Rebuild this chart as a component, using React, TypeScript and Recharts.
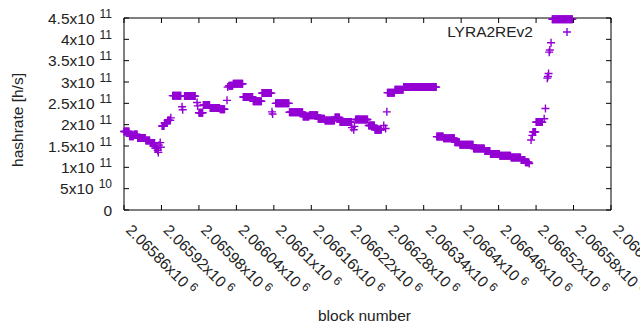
import { ScatterChart, Scatter, XAxis, YAxis, ReferenceArea, Legend } from "recharts";

// Runs of consecutive blocks sharing one hashrate estimate (units of 1e11 h/s),
// read off the plot. A run with start === end is a single block.
const runStart = [
  2065860, 2065869, 2065876, 2065882, 2065895, 2065902, 2065910, 2065914, 2065915, 2065916,
  2065918, 2065919, 2065921, 2065925, 2065930, 2065935, 2065938, 2065953, 2065954, 2065957,
  2065977, 2065978, 2065980, 2065987, 2065998, 2066014, 2066025, 2066026, 2066028, 2066035,
  2066051, 2066067, 2066081, 2066097, 2066098, 2066103, 2066125, 2066147, 2066157, 2066171,
  2066182, 2066198, 2066206, 2066225, 2066228, 2066229, 2066231, 2066252, 2066262, 2066276,
  2066279, 2066281, 2066282, 2066294, 2066308, 2066361, 2066372, 2066390, 2066398, 2066420,
  2066438, 2066447, 2066462, 2066480, 2066496, 2066503, 2066509, 2066512, 2066514, 2066515,
  2066520, 2066533, 2066535, 2066538, 2066539, 2066540, 2066541, 2066542, 2066544, 2066546,
];
const runEnd = [
  2065868, 2065875, 2065881, 2065894, 2065901, 2065909, 2065913, 2065914, 2065915, 2065916,
  2065918, 2065919, 2065924, 2065929, 2065934, 2065935, 2065951, 2065953, 2065954, 2065974,
  2065977, 2065978, 2065986, 2065997, 2066013, 2066021, 2066025, 2066026, 2066034, 2066050,
  2066066, 2066080, 2066096, 2066097, 2066098, 2066124, 2066146, 2066156, 2066170, 2066181,
  2066197, 2066205, 2066224, 2066225, 2066228, 2066229, 2066250, 2066261, 2066272, 2066276,
  2066279, 2066281, 2066293, 2066307, 2066360, 2066371, 2066389, 2066397, 2066419, 2066437,
  2066446, 2066461, 2066479, 2066495, 2066502, 2066508, 2066509, 2066512, 2066514, 2066519,
  2066530, 2066533, 2066535, 2066538, 2066539, 2066540, 2066541, 2066542, 2066544, 2066578,
];
const hashrateE11 = [
  1.84, 1.73, 1.77, 1.69, 1.63, 1.57, 1.45, 1.4, 1.35, 1.52,
  1.58, 1.47, 1.97, 2.04, 2.1, 2.16, 2.68, 2.42, 2.35, 2.67,
  2.52, 2.44, 2.28, 2.46, 2.39, 2.36, 2.57, 2.88, 2.91, 2.96,
  2.65, 2.55, 2.74, 2.3, 2.25, 2.5, 2.29, 2.19, 2.22, 2.14,
  2.1, 2.17, 2.06, 1.93, 1.88, 1.96, 2.12, 1.98, 1.88, 1.98,
  1.91, 2.3, 2.75, 2.82, 2.88, 1.72, 1.68, 1.59, 1.53, 1.44,
  1.38, 1.31, 1.27, 1.23, 1.17, 1.12, 1.09, 1.64, 1.75, 1.83,
  2.06, 2.14, 2.38, 3.09, 3.13, 3.2, 3.7, 3.75, 3.92, 4.47,
];

const xTicks = [
  2065860, 2065920, 2065980, 2066040, 2066100, 2066160, 2066220, 2066280, 2066340, 2066400,
  2066460, 2066520, 2066580, 2066640,
];
const yTicks = [0, 0.5, 1, 1.5, 2, 2.5, 3, 3.5, 4, 4.5];
const seriesName = "LYRA2REv2";
const xTitle = "block number";
const yTitle = "hashrate [h/s]";

const PURPLE = "#9400d3";
const FONT = "'Liberation Sans', Arial, sans-serif";
const PLOT_W = 487;
const PLOT_H = 192;
const Y_MARGIN = 12;

// one point per block
const points = runStart.flatMap((start, i) => {
  const out: { block: number; hashrate: number }[] = [];
  for (let b = start; b <= runEnd[i]; b++) out.push({ block: b, hashrate: hashrateE11[i] });
  return out;
});

function sci(raw: number): [string, number | null] {
  if (raw === 0) return ["0", null];
  const exp = Math.floor(Math.log10(raw) + 1e-9);
  const mant = parseFloat((raw / 10 ** exp).toFixed(5));
  return [`${mant}x10`, exp];
}

function YTick(props: any) {
  const { x, y, payload } = props;
  const [mant, exp] = sci(Math.round(payload.value * 1e11));
  const edge = x + Y_MARGIN;
  return (
    <g>
      <line x1={edge} x2={edge + 5} y1={y} y2={y} stroke="#000" />
      <line x1={edge + PLOT_W - 5} x2={edge + PLOT_W} y1={y} y2={y} stroke="#000" />
      <text x={x} y={y + 5.5} textAnchor="end" fontSize={15.5} fontFamily={FONT} fill="#222">
        {mant}
        {exp !== null && (
          <tspan dx={5} dy={-6} fontSize={12}>
            {exp}
          </tspan>
        )}
      </text>
    </g>
  );
}

function XTick(props: any) {
  const { x, y, payload } = props;
  const [mant, exp] = sci(payload.value);
  return (
    <g>
      <line x1={x} x2={x} y1={y} y2={y - 5} stroke="#000" />
      <line x1={x} x2={x} y1={y - PLOT_H} y2={y - PLOT_H + 5} stroke="#000" />
      <text
        transform={`translate(${x + 1},${y + 21}) rotate(45)`}
        fontSize={15.5}
        fontFamily={FONT}
        fill="#222"
      >
        {mant}
        <tspan dx={4} dy={-5} fontSize={12}>
          {exp}
        </tspan>
      </text>
    </g>
  );
}

function YTitle() {
  return (
    <text
      transform="translate(23,120) rotate(-90)"
      textAnchor="middle"
      fontSize={15.5}
      fontFamily={FONT}
      fill="#222"
    >
      {yTitle}
    </text>
  );
}

function Plus(props: any) {
  const { cx, cy } = props;
  return (
    <path
      d={`M${cx - 4},${cy}h8M${cx},${cy - 4}v8`}
      stroke={PURPLE}
      strokeWidth={1.4}
      fill="none"
    />
  );
}

function KeyBox() {
  return (
    <svg width={160} height={24}>
      <text x={103} y={17} textAnchor="end" fontSize={15.5} fontFamily={FONT} fill="#222">
        {seriesName}
      </text>
      <path d="M133,12h8M137,8v8" stroke={PURPLE} strokeWidth={1.4} />
    </svg>
  );
}

export default function App() {
  return (
    <div style={{ position: "absolute", left: 0, top: 0, background: "#fff" }}>
      <ScatterChart width={640} height={330} margin={{ top: 18, right: 29, bottom: 0, left: 0 }}>
        <XAxis
          dataKey="block"
          type="number"
          domain={[2065860, 2066640]}
          ticks={xTicks}
          interval={0}
          height={120}
          axisLine={false}
          tickLine={false}
          tickSize={0}
          tickMargin={0}
          tick={<XTick />}
          label={{
            value: xTitle,
            position: "insideBottom",
            offset: 9,
            dx: -3,
            fontSize: 15.5,
            fontFamily: FONT,
            fill: "#222",
          }}
        />
        <YAxis
          dataKey="hashrate"
          type="number"
          domain={[0, 4.5]}
          ticks={yTicks}
          interval={0}
          width={124}
          axisLine={false}
          tickLine={false}
          tickSize={0}
          tickMargin={Y_MARGIN}
          tick={<YTick />}
          label={{ content: () => <YTitle /> }}
        />
        <ReferenceArea
          x1={2065860}
          x2={2066640}
          y1={0}
          y2={4.5}
          fill="none"
          stroke="#000"
          strokeWidth={1}
          ifOverflow="visible"
        />
        <Scatter
          name={seriesName}
          data={points}
          dataKey="hashrate"
          fill={PURPLE}
          shape={<Plus />}
          isAnimationActive={false}
        />
        <Legend
          align="center"
          verticalAlign="middle"
          layout="horizontal"
          wrapperStyle={{ left: 430, top: 20, width: 160, height: 24 }}
          content={() => <KeyBox />}
        />
      </ScatterChart>
    </div>
  );
}
